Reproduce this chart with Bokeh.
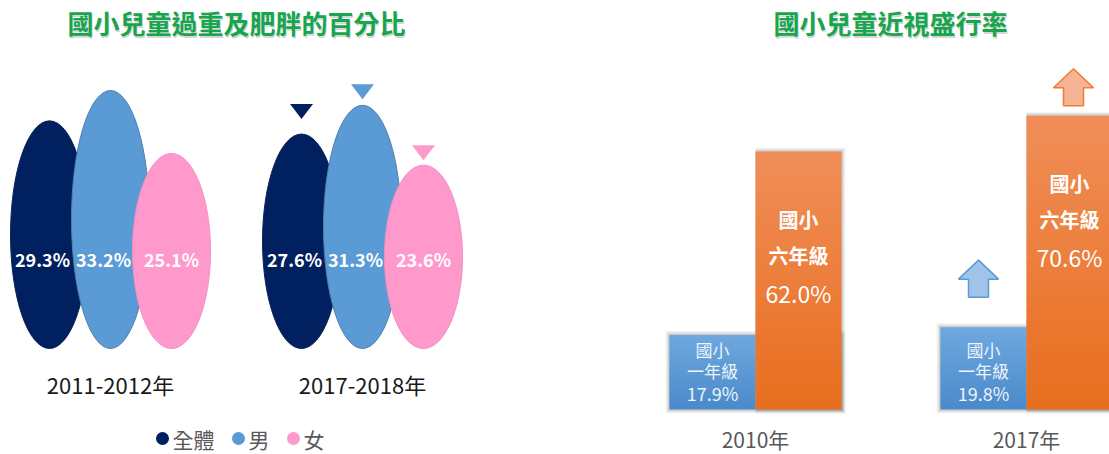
from bokeh.plotting import figure
from bokeh.layouts import row
from bokeh.models import Range1d
from bokeh.core.properties import value
from bokeh.embed import file_html
from bokeh.resources import INLINE

# ---------------- data ----------------
obesity_title = "國小兒童過重及肥胖的百分比"
obesity_periods = ["2011-2012年", "2017-2018年"]
obesity_series = ["全體", "男", "女"]
obesity_2011 = [29.3, 33.2, 25.1]
obesity_2017 = [27.6, 31.3, 23.6]

myopia_title = "國小兒童近視盛行率"
myopia_years = ["2010年", "2017年"]
myopia_grade1_label = ["國小", "一年級"]
myopia_grade6_label = ["國小", "六年級"]
myopia_grade1 = [17.9, 19.8]
myopia_grade6 = [62.0, 70.6]

# ---------------- styles ----------------
FONT = value("Noto Sans CJK TC")
TITLE_GREEN = "#17a54e"
SERIES_COLORS = ["#002060", "#5b9bd5", "#ff99cc"]
SERIES_LINES = ["#0b2456", "#4f7fae", "#f28fc3"]
BLUE_TOP, BLUE_BOT = (0x6f, 0xa8, 0xdf), (0x4a, 0x8a, 0xca)
ORANGE_TOP, ORANGE_BOT = (0xf0, 0x8e, 0x58), (0xe8, 0x6e, 0x1e)

PAGE = 0
H = 454
LW = 488
RW = 621

# ---------------- left chart (ellipses) ----------------
L_X0, L_PX_X, L_PX_Y, L_BASE = 110.0, 252.0, 7.77, 348.0


def lpx(X):
    return (X - PAGE - L_X0) / L_PX_X


def lpy(Y):
    return (L_BASE - (Y - PAGE)) / L_PX_Y


p1 = figure(width=LW, height=H, output_backend="svg", toolbar_location=None,
            x_range=Range1d(-L_X0 / L_PX_X, (LW - L_X0) / L_PX_X),
            y_range=Range1d(-(H - L_BASE) / L_PX_Y, L_BASE / L_PX_Y),
            x_axis_location=None, y_axis_location=None, min_border=0)
p1.grid.visible = False
p1.outline_line_color = None

off = 61.0 / L_PX_X
ell_w = 78.0 / L_PX_X
periods_vals = [obesity_2011, obesity_2017]
for si in range(3):
    xs = [g + (si - 1) * off for g in range(len(obesity_periods))]
    vals = [periods_vals[g][si] for g in range(len(obesity_periods))]
    p1.ellipse(x=xs, y=[v / 2 for v in vals], width=ell_w, height=vals,
               fill_color=SERIES_COLORS[si], line_color=SERIES_LINES[si], line_width=1)

# value labels
for si in range(3):
    xs = [g + (si - 1) * off for g in range(len(obesity_periods))]
    vals = [periods_vals[g][si] for g in range(len(obesity_periods))]
    p1.text(x=xs, y=[lpy(258)] * len(xs), text=[f"{v:.1f}%" for v in vals],
            x_offset=-7 if si < 2 else 0,
            text_font=FONT, text_font_size="18px", text_font_style="bold",
            text_color="white", text_align="center", text_baseline="middle")

# decrease markers above the later period
tri_gap_px = [15, 6, 5]
for si in range(3):
    cx = 1 + (si - 1) * off
    tip = obesity_2017[si] + tri_gap_px[si] / L_PX_Y
    top = tip + 15 / L_PX_Y
    hw = 11.5 / L_PX_X
    p1.patch(x=[cx - hw, cx + hw, cx], y=[top, top, tip],
             fill_color=SERIES_COLORS[si], line_color=None)

# category labels
p1.text(x=list(range(len(obesity_periods))), y=[lpy(383)] * 2, text=obesity_periods,
        text_font=FONT, text_font_size="22px", text_color="#1a1a1a",
        text_align="center", text_baseline="middle")

# legend
leg_dots = [162, 238, 293]
p1.scatter(x=[lpx(v) for v in leg_dots], y=[lpy(438)] * 3, size=13,
           fill_color=SERIES_COLORS, line_color=None)
p1.text(x=[lpx(v + 10) for v in leg_dots], y=[lpy(438)] * 3, text=obesity_series,
        text_font=FONT, text_font_size="21px", text_color="#595959",
        text_align="left", text_baseline="middle")

# title with soft shadow
p1.text(x=[lpx(236)], y=[lpy(22)], text=[obesity_title], x_offset=1, y_offset=2,
        text_font=FONT, text_font_size="26px", text_font_style="bold",
        text_color="#000000", text_alpha=0.18, text_align="center", text_baseline="middle")
p1.text(x=[lpx(236)], y=[lpy(22)], text=[obesity_title],
        text_font=FONT, text_font_size="26px", text_font_style="bold",
        text_color=TITLE_GREEN, text_align="center", text_baseline="middle")

# ---------------- right chart (bars) ----------------
R_X0, R_PX_X, R_PX_Y, R_BASE = 267.0, 271.0, 4.16, 409.0
R_LEFT = PAGE + LW


def rpx(X):
    return (X - R_LEFT - R_X0) / R_PX_X


def rpy(Y):
    return (R_BASE - (Y - PAGE)) / R_PX_Y


p2 = figure(width=RW, height=H, output_backend="svg", toolbar_location=None,
            x_range=Range1d(-R_X0 / R_PX_X, (RW - R_X0) / R_PX_X),
            y_range=Range1d(-(H - R_BASE) / R_PX_Y, R_BASE / R_PX_Y),
            x_axis_location=None, y_axis_location=None, min_border=0)
p2.grid.visible = False
p2.outline_line_color = None

bw = 86.0 / R_PX_X
gx = list(range(len(myopia_years)))


def hexcol(c):
    return "#%02x%02x%02x" % tuple(int(round(v)) for v in c)


def gradient_bars(lefts, rights, tops, c_top, c_bot, n=30):
    L, R, B, T, C = [], [], [], [], []
    for l, r, t in zip(lefts, rights, tops):
        for k in range(n):
            f0, f1 = k / n, (k + 1) / n
            L.append(l)
            R.append(r)
            B.append(t * f0)
            T.append(min(t, t * f1 + 1.5 / R_PX_Y))
            fm = (k + 0.5) / n  # 0 bottom -> 1 top
            C.append(hexcol([c_bot[i] + (c_top[i] - c_bot[i]) * fm for i in range(3)]))
    p2.quad(left=L, right=R, bottom=B, top=T, fill_color=C, line_color=None)


# soft shadows behind bars
for s, a in [(4, 0.05), (2.5, 0.07), (1.2, 0.09)]:
    p2.quad(left=[g - bw - s / R_PX_X for g in gx], right=[g + bw + s / R_PX_X for g in gx],
            bottom=[-s / R_PX_Y] * 2,
            top=[myopia_grade1[i] + s / R_PX_Y for i in range(2)],
            fill_color="#000000", fill_alpha=a, line_color=None)
    p2.quad(left=gx, right=[g + bw + s / R_PX_X for g in gx],
            bottom=[-s / R_PX_Y] * 2,
            top=[myopia_grade6[i] + s / R_PX_Y for i in range(2)],
            fill_color="#000000", fill_alpha=a, line_color=None)

gradient_bars([g - bw for g in gx], gx, myopia_grade1, BLUE_TOP, BLUE_BOT)
gradient_bars(gx, [g + bw for g in gx], myopia_grade6, ORANGE_TOP, ORANGE_BOT)

# orange bar texts
for li, dy in enumerate([67.5, 103.5]):
    p2.text(x=[g + bw / 2 for g in gx], y=[v - dy / R_PX_Y for v in myopia_grade6],
            text=[myopia_grade6_label[li]] * 2,
            text_font=FONT, text_font_size="20px", text_font_style="bold",
            text_color="white", text_align="center", text_baseline="middle")
p2.text(x=[g + bw / 2 for g in gx], y=[v - 141.5 / R_PX_Y for v in myopia_grade6],
        text=[f"{v:.1f}%" for v in myopia_grade6],
        text_font=FONT, text_font_size="23px",
        text_color="white", text_align="center", text_baseline="middle")

# blue bar texts
for li, dy in enumerate([60, 39]):
    p2.text(x=[g - bw / 2 for g in gx], y=[dy / R_PX_Y] * 2,
            text=[myopia_grade1_label[li]] * 2,
            text_font=FONT, text_font_size="17px",
            text_color="#eef4fb", text_align="center", text_baseline="middle")
p2.text(x=[g - bw / 2 for g in gx], y=[17 / R_PX_Y] * 2,
        text=[f"{v:.1f}%" for v in myopia_grade1],
        text_font=FONT, text_font_size="18px",
        text_color="#eef4fb", text_align="center", text_baseline="middle")


def up_arrow(cx, base):
    hw, sw = 20 / R_PX_X, 10 / R_PX_X
    hb = base + 18 / R_PX_Y
    tp = base + 37 / R_PX_Y
    return ([cx - sw, cx + sw, cx + sw, cx + hw, cx, cx - hw, cx - sw],
            [base, base, hb, hb, tp, hb, hb])


# increase arrows for the later year
ax, ay = up_arrow(1 - bw / 2 - 5 / R_PX_X, myopia_grade1[1] + 30 / R_PX_Y)
p2.patch(x=ax, y=ay, fill_color="#9fc4e8", line_color="#5b9bd5", line_width=1.5)
ax, ay = up_arrow(1 + bw / 2 + 4 / R_PX_X, myopia_grade6[1] + 10 / R_PX_Y)
p2.patch(x=ax, y=ay, fill_color="#f6b494", line_color="#ed7d31", line_width=1.5)

# category labels
p2.text(x=gx, y=[rpy(438)] * 2, text=myopia_years,
        text_font=FONT, text_font_size="21px", text_color="#595959",
        text_align="center", text_baseline="middle")

# title
p2.text(x=[rpx(890)], y=[rpy(22)], text=[myopia_title], x_offset=1, y_offset=2,
        text_font=FONT, text_font_size="26px", text_font_style="bold",
        text_color="#000000", text_alpha=0.18, text_align="center", text_baseline="middle")
p2.text(x=[rpx(890)], y=[rpy(22)], text=[myopia_title],
        text_font=FONT, text_font_size="26px", text_font_style="bold",
        text_color=TITLE_GREEN, text_align="center", text_baseline="middle")

layout = row(p1, p2)
open("out.html", "w").write(file_html(layout, INLINE))
